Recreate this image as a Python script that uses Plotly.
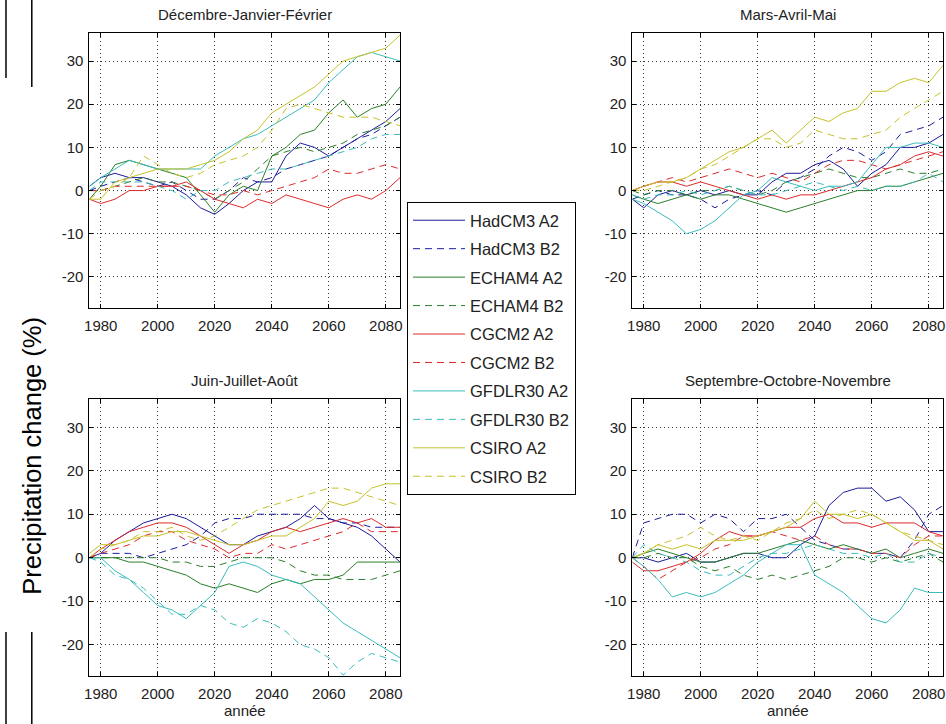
import plotly.graph_objects as go

# ---------------- data ----------------
YEARS = [1976, 1980, 1985, 1990, 1995, 2000, 2005, 2010, 2015, 2020, 2025, 2030,
         2035, 2040, 2045, 2050, 2055, 2060, 2065, 2070, 2075, 2080, 2085]

SERIES = ["HadCM3 A2", "HadCM3 B2", "ECHAM4 A2", "ECHAM4 B2", "CGCM2 A2",
          "CGCM2 B2", "GFDLR30 A2", "GFDLR30 B2", "CSIRO A2", "CSIRO B2"]
COLORS = ["#1c1c9c", "#1c1c9c", "#2a7f2a", "#2a7f2a", "#dd2a2a",
          "#dd2a2a", "#3cbcbc", "#3cbcbc", "#c6c22a", "#c6c22a"]
DASHES = ["solid", "7px,5px"] * 5

PANEL_TITLES = ["Décembre-Janvier-Février", "Mars-Avril-Mai",
                "Juin-Juillet-Août", "Septembre-Octobre-Novembre"]
X_TICKS = [1980, 2000, 2020, 2040, 2060, 2080]
Y_TICKS = [-20, -10, 0, 10, 20, 30]
Y_TICK_LABELS = ["-20", "-10", "0", "10", "20", "30"]

# Décembre-Janvier-Février
djf_hadcm3_a2 = [1, 3, 4, 3, 3, 2, 1, -1, -4, -5.5, -3, 0, 2, 2, 8, 11, 10, 8, 10, 12, 14, 16, 19]
djf_hadcm3_b2 = [0, 1, 2, 3, 2, 1, 2, 0, -2, -2, 0, 3, 2, 3, 5, 6, 7, 8, 10, 12, 13, 15, 17]
djf_echam4_a2 = [-2, 1, 6, 7, 6, 5, 4, 3, -1, -5, -1, 1, 0, 8, 10, 13, 14, 18, 21, 17, 19, 20, 24]
djf_echam4_b2 = [0, 0, 1, 2, 3, 2, 2, 1, 0, -2, 0, 2, 5, 8, 9, 10, 9, 10, 11, 13, 14, 15, 17]
djf_cgcm2_a2 = [-2, -3, -2, 0, 0, 1, 1, 2, 0, -2, -3, -4, -2, -3, -1, -2, -3, -4, -2, -1, -2, 0, 3]
djf_cgcm2_b2 = [0, 0, 1, 1, 1, 1, 1, 1, 0, -1, -1, 0, -1, 0, 1, 2, 3, 5, 4, 4, 5, 6, 5]
djf_gfdlr30_a2 = [1, 3, 5, 7, 6, 5, 5, 5, 5, 8, 10, 12, 13, 15, 17, 19, 21, 25, 28, 31, 32, 31, 30]
djf_gfdlr30_b2 = [0, 2, 2, 2, 2, 1, 0, -2, 0, 0, 2, 3, 4, 5, 5, 6, 7, 8, 9, 10, 12, 13, 13]
djf_csiro_a2 = [-2, -2, 2, 3, 4, 5, 5, 5, 6, 7, 9, 12, 14, 18, 20, 22, 24, 27, 30, 31, 32, 33, 36]
djf_csiro_b2 = [-2, 0, 1, 3, 8, 6, 4, 3, 4, 6, 7, 8, 10, 14, 19, 20, 19, 18, 17, 17, 17, 16, 15]

# Mars-Avril-Mai
mam_hadcm3_a2 = [-2, -4, -1, 0, -1, 0, -1, 0, -1, -1, 2, 4, 4, 6, 7, 5, 1, 4, 6, 10, 10, 11, 13]
mam_hadcm3_b2 = [-2, -1, 0, -1, -1, -2, -4, -2, -1, 0, -1, 2, 3, 5, 8, 10, 9, 7, 9, 13, 14, 15, 17]
mam_echam4_a2 = [-1, -2, -3, -2, -1, -2, -1, -1, -2, -3, -4, -5, -4, -3, -2, -1, 0, 0, 1, 1, 2, 3, 4]
mam_echam4_b2 = [0, -1, 0, 0, -1, 0, 0, 1, 0, -1, 0, 2, 3, 4, 5, 4, 3, 3, 4, 5, 4, 4, 5]
mam_cgcm2_a2 = [0, 1, 2, 2, 1, 2, 1, 0, -1, -2, -1, -2, -1, -1, 0, 1, 2, 3, 5, 6, 8, 9, 8]
mam_cgcm2_b2 = [0, 1, 2, 3, 2, 3, 4, 5, 4, 3, 4, 3, 2, 4, 6, 7, 7, 6, 5, 6, 7, 8, 9]
mam_gfdlr30_a2 = [-2, -3, -5, -7, -10, -9, -7, -4, -1, 0, 3, 2, 1, 0, 1, 1, 2, 6, 10, 10, 11, 11, 10]
mam_gfdlr30_b2 = [-1, -2, -1, -1, 0, -1, 0, 1, 0, -1, -1, 0, 1, 2, 1, 0, 1, 0, 1, 1, 2, 4, 2]
mam_csiro_a2 = [0, 1, 2, 2, 3, 5, 7, 9, 10, 12, 14, 11, 14, 17, 16, 18, 19, 23, 23, 25, 26, 25, 29]
mam_csiro_b2 = [0, 0, 1, 2, 3, 5, 6, 8, 10, 12, 12, 10, 11, 14, 13, 12, 12, 13, 14, 17, 19, 21, 23]

# Juin-Juillet-Août
jja_hadcm3_a2 = [0, 1, 4, 6, 8, 9, 10, 9, 7, 5, 3, 3, 5, 6, 7, 9, 12, 9, 8, 7, 5, 2, -1]
jja_hadcm3_b2 = [0, 1, 1, 1, 0, 1, 2, 3, 5, 8, 9, 9, 10, 10, 10, 10, 9, 9, 8, 8, 7, 7, 7]
jja_echam4_a2 = [0, 0, 0, -1, -1, -2, -3, -4, -6, -7, -6, -7, -8, -6, -5, -6, -5, -5, -4, -1, -1, -1, -1]
jja_echam4_b2 = [0, 0, 0, 0, 0, 0, -1, -1, -2, -2, -1, 0, 0, 0, -1, -3, -4, -4, -5, -5, -5, -4, -3]
jja_cgcm2_a2 = [0, 2, 4, 6, 7, 8, 8, 7, 5, 3, 1, 3, 4, 6, 7, 6, 7, 8, 9, 8, 9, 7, 7]
jja_cgcm2_b2 = [0, 1, 2, 3, 5, 6, 6, 4, 3, 2, 0, 1, 1, 3, 2, 3, 4, 5, 6, 8, 6, 6, 6]
jja_gfdlr30_a2 = [0, 0, -3, -5, -8, -11, -12, -14, -11, -8, -2, -1, -2, -4, -5, -6, -9, -12, -15, -17, -19, -21, -23]
jja_gfdlr30_b2 = [0, -1, -4, -5, -7, -10, -13, -13, -11, -12, -15, -16, -14, -15, -17, -20, -21, -23, -27, -24, -22, -23, -24]
jja_csiro_a2 = [1, 3, 3, 4, 5, 5, 6, 6, 5, 4, 3, 3, 4, 5, 5, 7, 9, 13, 12, 13, 16, 17, 17]
jja_csiro_b2 = [0, 2, 3, 4, 6, 6, 7, 5, 4, 5, 7, 9, 11, 12, 13, 14, 15, 16, 16, 15, 14, 13, 12]

# Septembre-Octobre-Novembre
son_hadcm3_a2 = [0, 0, -1, 0, 1, -1, -1, 0, 1, 1, 0, 0, 3, 5, 12, 15, 16, 16, 13, 14, 11, 6, 6]
son_hadcm3_b2 = [0, 8, 9, 10, 10, 8, 10, 9, 6, 9, 9, 10, 7, 4, 3, 2, 2, 1, 1, 0, 4, 10, 12]
son_echam4_a2 = [0, 1, 2, 1, 0, -1, -1, 0, 1, 1, 2, 3, 4, 3, 2, 3, 2, 1, 2, 0, 1, 2, 1]
son_echam4_b2 = [0, 0, 1, 0, 0, -2, -3, -2, -4, -5, -4, -5, -4, -3, -2, 0, 0, -1, 0, -1, 0, 1, -1]
son_cgcm2_a2 = [-1, -3, -3, -2, -1, 1, 4, 6, 5, 5, 6, 7, 7, 9, 10, 8, 8, 7, 8, 8, 8, 6, 5]
son_cgcm2_b2 = [0, -2, -5, -3, -1, 0, 2, 3, 5, 5, 6, 5, 4, 5, 3, 2, 2, 1, 1, 0, 3, 5, 5]
son_gfdlr30_a2 = [0, -2, -5, -9, -8, -9, -8, -6, -4, -1, 1, 3, 3, -4, -6, -8, -11, -14, -15, -12, -7, -8, -8]
son_gfdlr30_b2 = [0, 3, 1, 0, -1, -3, -4, -4, -2, 0, 1, 1, 2, 3, 2, 1, 1, 0, 1, -1, -1, 1, 0]
son_csiro_a2 = [0, 1, 3, 2, 3, 2, 4, 4, 4, 5, 6, 7, 9, 13, 10, 10, 9, 10, 8, 6, 4, 4, 2]
son_csiro_b2 = [0, 1, 3, 4, 5, 7, 5, 4, 5, 4, 6, 8, 9, 11, 9, 10, 11, 10, 8, 6, 5, 4, 3]

PANELS = [
    [djf_hadcm3_a2, djf_hadcm3_b2, djf_echam4_a2, djf_echam4_b2, djf_cgcm2_a2,
     djf_cgcm2_b2, djf_gfdlr30_a2, djf_gfdlr30_b2, djf_csiro_a2, djf_csiro_b2],
    [mam_hadcm3_a2, mam_hadcm3_b2, mam_echam4_a2, mam_echam4_b2, mam_cgcm2_a2,
     mam_cgcm2_b2, mam_gfdlr30_a2, mam_gfdlr30_b2, mam_csiro_a2, mam_csiro_b2],
    [jja_hadcm3_a2, jja_hadcm3_b2, jja_echam4_a2, jja_echam4_b2, jja_cgcm2_a2,
     jja_cgcm2_b2, jja_gfdlr30_a2, jja_gfdlr30_b2, jja_csiro_a2, jja_csiro_b2],
    [son_hadcm3_a2, son_hadcm3_b2, son_echam4_a2, son_echam4_b2, son_cgcm2_a2,
     son_cgcm2_b2, son_gfdlr30_a2, son_gfdlr30_b2, son_csiro_a2, son_csiro_b2],
]

# ---------------- layout geometry (pixels) ----------------
W, H = 946, 724
FONT = "Arial, Liberation Sans, sans-serif"
BOXES = [(85, 398, 33, 308), (632, 945, 33, 308),
         (85, 398, 399, 676), (632, 945, 399, 676)]


def fx(p):
    return p / W


def fy(p):
    return 1 - p / H


fig = go.Figure()

for pi, panel in enumerate(PANELS):
    sfx = "" if pi == 0 else str(pi + 1)
    for si, vals in enumerate(panel):
        fig.add_trace(go.Scatter(
            x=YEARS, y=vals, mode="lines", name=SERIES[si],
            legendgroup=SERIES[si], showlegend=(pi == 0),
            line=dict(color=COLORS[si], width=1, dash=DASHES[si]),
            xaxis="x" + sfx, yaxis="y" + sfx, hoverinfo="skip",
        ))

axis_common = dict(
    showline=True, linecolor="black", linewidth=1, mirror="ticks",
    ticks="inside", ticklen=4, tickcolor="black", tickwidth=1,
    showgrid=True, gridcolor="#333333", gridwidth=1, griddash="1px,3px",
    zeroline=False, tickfont=dict(family=FONT, size=15, color="#222222"),
    fixedrange=True,
)

layout = dict(
    width=W, height=H, autosize=False,
    margin=dict(l=0, r=0, t=0, b=0),
    paper_bgcolor="white", plot_bgcolor="white",
    font=dict(family=FONT, color="#222222"),
    showlegend=True,
    legend=dict(
        x=fx(405), y=fy(202), xanchor="left", yanchor="top",
        bgcolor="white", bordercolor="black", borderwidth=1,
        font=dict(family=FONT, size=16.5, color="#222222"),
        itemwidth=52, traceorder="grouped", tracegroupgap=4,
    ),
)

annotations = []
for pi, (x0, x1, y0, y1) in enumerate(BOXES):
    sfx = "" if pi == 0 else str(pi + 1)
    layout["xaxis" + sfx] = dict(
        axis_common, domain=[fx(x0), fx(x1)], range=[1976, 2085],
        tickvals=X_TICKS, anchor="y" + sfx, ticklabelstandoff=4,
    )
    layout["yaxis" + sfx] = dict(
        axis_common, domain=[fy(y1), fy(y0)], range=[-27.2, 36.5],
        tickvals=Y_TICKS, ticktext=Y_TICK_LABELS, anchor="x" + sfx,
        ticklabelstandoff=2,
    )
    annotations.append(dict(
        text=PANEL_TITLES[pi], xref="paper", yref="paper",
        x=fx((x0 + x1) / 2), y=fy(y0 - 19), xanchor="center", yanchor="middle",
        showarrow=False, font=dict(family=FONT, size=15, color="#222222"),
    ))
    if pi >= 2:
        annotations.append(dict(
            text="année", xref="paper", yref="paper",
            x=fx((x0 + x1) / 2), y=fy(710), xanchor="center", yanchor="middle",
            showarrow=False, font=dict(family=FONT, size=15, color="#222222"),
        ))

annotations.append(dict(
    text="Precipitation change (%)", xref="paper", yref="paper",
    x=fx(27), y=fy(456), xanchor="center", yanchor="middle", textangle=-90,
    showarrow=False, font=dict(family=FONT, size=25.5, color="black"),
))
layout["annotations"] = annotations

# cropped-frame remnants at the left edge of the picture
layout["shapes"] = [
    dict(type="line", xref="paper", yref="paper", x0=fx(1), x1=fx(1), y0=fy(0), y1=fy(78),
         line=dict(color="black", width=1.5)),
    dict(type="line", xref="paper", yref="paper", x0=fx(27), x1=fx(27), y0=fy(0), y1=fy(87),
         line=dict(color="black", width=1.5)),
    dict(type="line", xref="paper", yref="paper", x0=fx(1), x1=fx(1), y0=fy(632), y1=fy(724),
         line=dict(color="black", width=1.5)),
    dict(type="line", xref="paper", yref="paper", x0=fx(27), x1=fx(27), y0=fy(632), y1=fy(724),
         line=dict(color="black", width=1.5)),
]

fig.update_layout(**layout)
fig.write_html("out.html", include_plotlyjs=True, config={"displayModeBar": False})
